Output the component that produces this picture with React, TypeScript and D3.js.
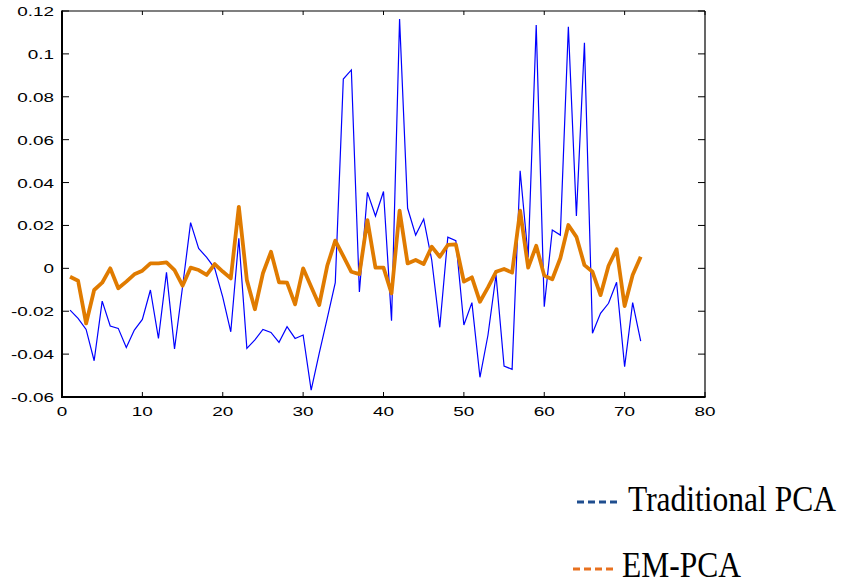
import React from "react";
import * as d3 from "d3";

const xIndex: number[] = Array.from({ length: 72 }, (_, i) => i + 1);

const traditionalPCA: number[] = [
  -0.0195, -0.0233, -0.0285, -0.0431, -0.0153, -0.0269, -0.028, -0.0369, -0.0288, -0.0238,
  -0.0101, -0.0327, -0.0019, -0.0376, -0.0086, 0.0213, 0.0093, 0.0051, 0.0, -0.0134,
  -0.0296, 0.014, -0.0373, -0.0334, -0.0285, -0.0299, -0.0345, -0.0272, -0.0327, -0.0311,
  -0.0568, -0.0397, -0.0233, -0.0067, 0.0883, 0.0925, -0.011, 0.0354, 0.0244, 0.0358,
  -0.0244, 0.1163, 0.028, 0.0155, 0.023, 0.0039, -0.0275, 0.0145, 0.0129, -0.0264,
  -0.016, -0.0508, -0.0311, -0.0031, -0.0456, -0.0471, 0.0455, 0.0051, 0.1135, -0.0179,
  0.0179, 0.0155, 0.1127, 0.0244, 0.1052, -0.0303, -0.021, -0.0163, -0.0065, -0.0459,
  -0.016, -0.0339,
];

const emPCA: number[] = [
  -0.0039, -0.0058, -0.0257, -0.0101, -0.0067, 0.0, -0.0093, -0.0062, -0.0028, -0.0011,
  0.0023, 0.0023, 0.0028, -0.0008, -0.0081, 0.0003, -0.0008, -0.0031, 0.002, -0.0015,
  -0.0047, 0.0287, -0.0055, -0.0191, -0.0023, 0.0077, -0.0065, -0.0067, -0.0168, 0.0,
  -0.0086, -0.0171, 0.0012, 0.0129, 0.0057, -0.0016, -0.0027, 0.0225, 0.0003, 0.0003,
  -0.0117, 0.0269, 0.0023, 0.0039, 0.002, 0.0101, 0.0054, 0.0109, 0.0112, -0.0062,
  -0.0042, -0.0156, -0.0089, -0.0016, -0.0003, -0.002, 0.0269, 0.0003, 0.0105, -0.0034,
  -0.0051, 0.0047, 0.0202, 0.0147, 0.0015, -0.0016, -0.0125, 0.0012, 0.0089, -0.0176,
  -0.0031, 0.0054,
];

const xTicks: number[] = [0, 10, 20, 30, 40, 50, 60, 70, 80];
const yTicks: number[] = [-0.06, -0.04, -0.02, 0, 0.02, 0.04, 0.06, 0.08, 0.1, 0.12];
const yTickLabels: string[] = ["-0.06", "-0.04", "-0.02", "0", "0.02", "0.04", "0.06", "0.08", "0.1", "0.12"];
const seriesNames: string[] = ["Traditional PCA", "EM-PCA"];

const W = 842;
const H = 583;
const L = 62, R = 705, T = 11, B = 397;

export default function App() {
  const x = d3.scaleLinear().domain([0, 80]).range([L, R]);
  const y = d3.scaleLinear().domain([-0.06, 0.12]).range([B, T]);
  const line = (vals: number[]) =>
    d3.line<number>().x((_, i) => x(xIndex[i])).y((v) => y(v))(vals) || "";

  const tickFont = "'Liberation Sans', Arial, sans-serif";
  const legFont = "'Liberation Serif', 'Times New Roman', serif";

  return (
    <svg width={W} height={H} style={{ position: "absolute", left: 0, top: 0, background: "#fff" }}>
      {/* data */}
      <path d={line(traditionalPCA)} fill="none" stroke="#0000ff" strokeWidth={1.2} strokeLinejoin="miter" />
      <path d={line(emPCA)} fill="none" stroke="#e07b00" strokeWidth={3.8} strokeLinejoin="round" />

      {/* frame */}
      <line x1={L} x2={R} y1={T} y2={T} stroke="#000" strokeWidth={1.2} />
      <line x1={R} x2={R} y1={T} y2={B} stroke="#000" strokeWidth={1.2} />
      <line x1={L} x2={L} y1={T - 0.6} y2={B + 1} stroke="#000" strokeWidth={2} />
      <line x1={L - 1} x2={R + 0.6} y1={B} y2={B} stroke="#000" strokeWidth={2} />

      {/* x ticks */}
      {xTicks.map((t) => (
        <g key={"x" + t}>
          <line x1={x(t)} x2={x(t)} y1={B} y2={B - 5} stroke="#000" strokeWidth={1} />
          <line x1={x(t)} x2={x(t)} y1={T} y2={T + 4} stroke="#000" strokeWidth={1} />
          <text
            transform={`translate(${x(t)},${416}) scale(1.4,1)`}
            textAnchor="middle"
            fontFamily={tickFont}
            fontSize={13.5}
            fill="#000"
          >
            {t}
          </text>
        </g>
      ))}

      {/* y ticks */}
      {yTicks.map((t, i) => (
        <g key={"y" + t}>
          <line x1={L} x2={L + 7} y1={y(t)} y2={y(t)} stroke="#000" strokeWidth={1} />
          <line x1={R} x2={R - 7} y1={y(t)} y2={y(t)} stroke="#000" strokeWidth={1} />
          <text
            transform={`translate(${54},${y(t) + 5}) scale(1.4,1)`}
            textAnchor="end"
            fontFamily={tickFont}
            fontSize={13.5}
            fill="#000"
          >
            {yTickLabels[i]}
          </text>
        </g>
      ))}

      {/* legend */}
      <line x1={577} x2={617} y1={502} y2={502} stroke="#1f4e8f" strokeWidth={3} strokeDasharray="7 4" />
      <text transform="translate(628,511) scale(1,1.12)" fontFamily={legFont} fontSize={31.5} fill="#000">
        {seriesNames[0]}
      </text>
      <line x1={573} x2={613} y1={569} y2={569} stroke="#e8711f" strokeWidth={3} strokeDasharray="7 4" />
      <text transform="translate(622,577) scale(1,1.12)" fontFamily={legFont} fontSize={31.5} fill="#000">
        {seriesNames[1]}
      </text>
    </svg>
  );
}
